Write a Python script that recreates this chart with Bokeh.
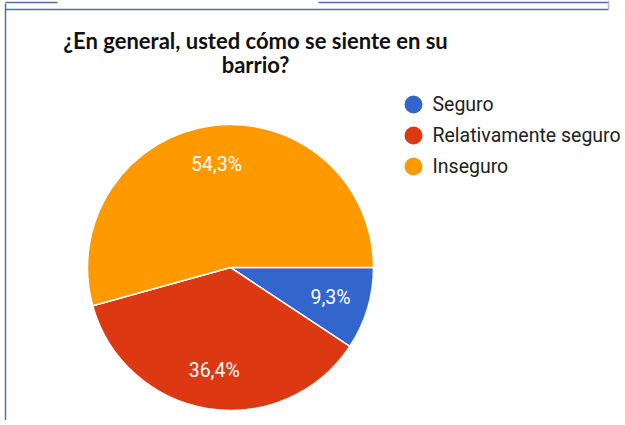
import math
from bokeh.plotting import figure
from bokeh.models import Range1d, ColumnDataSource
from bokeh.core.properties import value
from bokeh.embed import file_html
from bokeh.resources import INLINE

# ---- data ----
categories = ["Seguro", "Relativamente seguro", "Inseguro"]
percentages = [9.3, 36.4, 54.3]
pct_labels = ["9,3%", "36,4%", "54,3%"]
colors = ["#3366CC", "#DC3912", "#FF9900"]
title_lines = ["¿En general, usted cómo se siente en su", "barrio?"]

W, H = 620, 420
p = figure(width=W, height=H, output_backend="svg", toolbar_location=None,
           x_range=Range1d(0, W), y_range=Range1d(0, H), min_border=0)
p.axis.visible = False
p.grid.visible = False
p.outline_line_color = None
p.background_fill_color = "white"

# frame decoration seen in the screenshot
frame_col = "#4F6FA8"
p.segment(x0=[5, 5, 5, 318], y0=[H - 3, H - 9, H - 2, H - 2],
          x1=[5, 608, 57, 608], y1=[0, H - 9, H - 2, H - 2],
          line_color=frame_col, line_width=1.5)
p.segment(x0=[608], y0=[H], x1=[608], y1=[H - 9], line_color="#AAB8D4", line_width=1.5)

cx, cy, R = 230, H - 267, 143
total = sum(percentages)
starts, ends, lx, ly = [], [], [], []
cum = 0.0
for v in percentages:
    f = v / total
    starts.append(-cum * 2 * math.pi)
    ends.append(-(cum + f) * 2 * math.pi)
    mid = -(cum + f / 2) * 2 * math.pi
    lx.append(cx + 0.73 * R * math.cos(mid))
    ly.append(cy + 0.73 * R * math.sin(mid))
    cum += f

src = ColumnDataSource(dict(start=starts, end=ends, color=colors, lx=lx, ly=ly,
                            lab=pct_labels))
p.wedge(x=cx, y=cy, radius=R, start_angle="start", end_angle="end",
        direction="clock", fill_color="color", line_color="white",
        line_width=1.5, source=src)
p.text(x="lx", y="ly", text="lab", source=src, text_color="white",
       text_font=value("Roboto"), text_font_size="19.5px",
       text_align="center", text_baseline="middle")

# title
p.text(x=[255, 255], y=[H - 40, H - 64], text=title_lines, text_color="#111111",
       text_font=value("Lato"), text_font_style="bold", text_font_size="22px",
       text_align="center", text_baseline="middle")

# legend
leg_y = [H - 104 - 31 * i for i in range(len(categories))]
p.scatter(x=[413] * len(categories), y=leg_y, size=18, marker="circle",
          fill_color=colors, line_color=None)
p.text(x=[432] * len(categories), y=leg_y, text=categories, text_color="#222222",
       text_font=value("Roboto"), text_font_size="19.5px",
       text_align="left", text_baseline="middle")

open("out.html", "w").write(file_html(p, INLINE))
